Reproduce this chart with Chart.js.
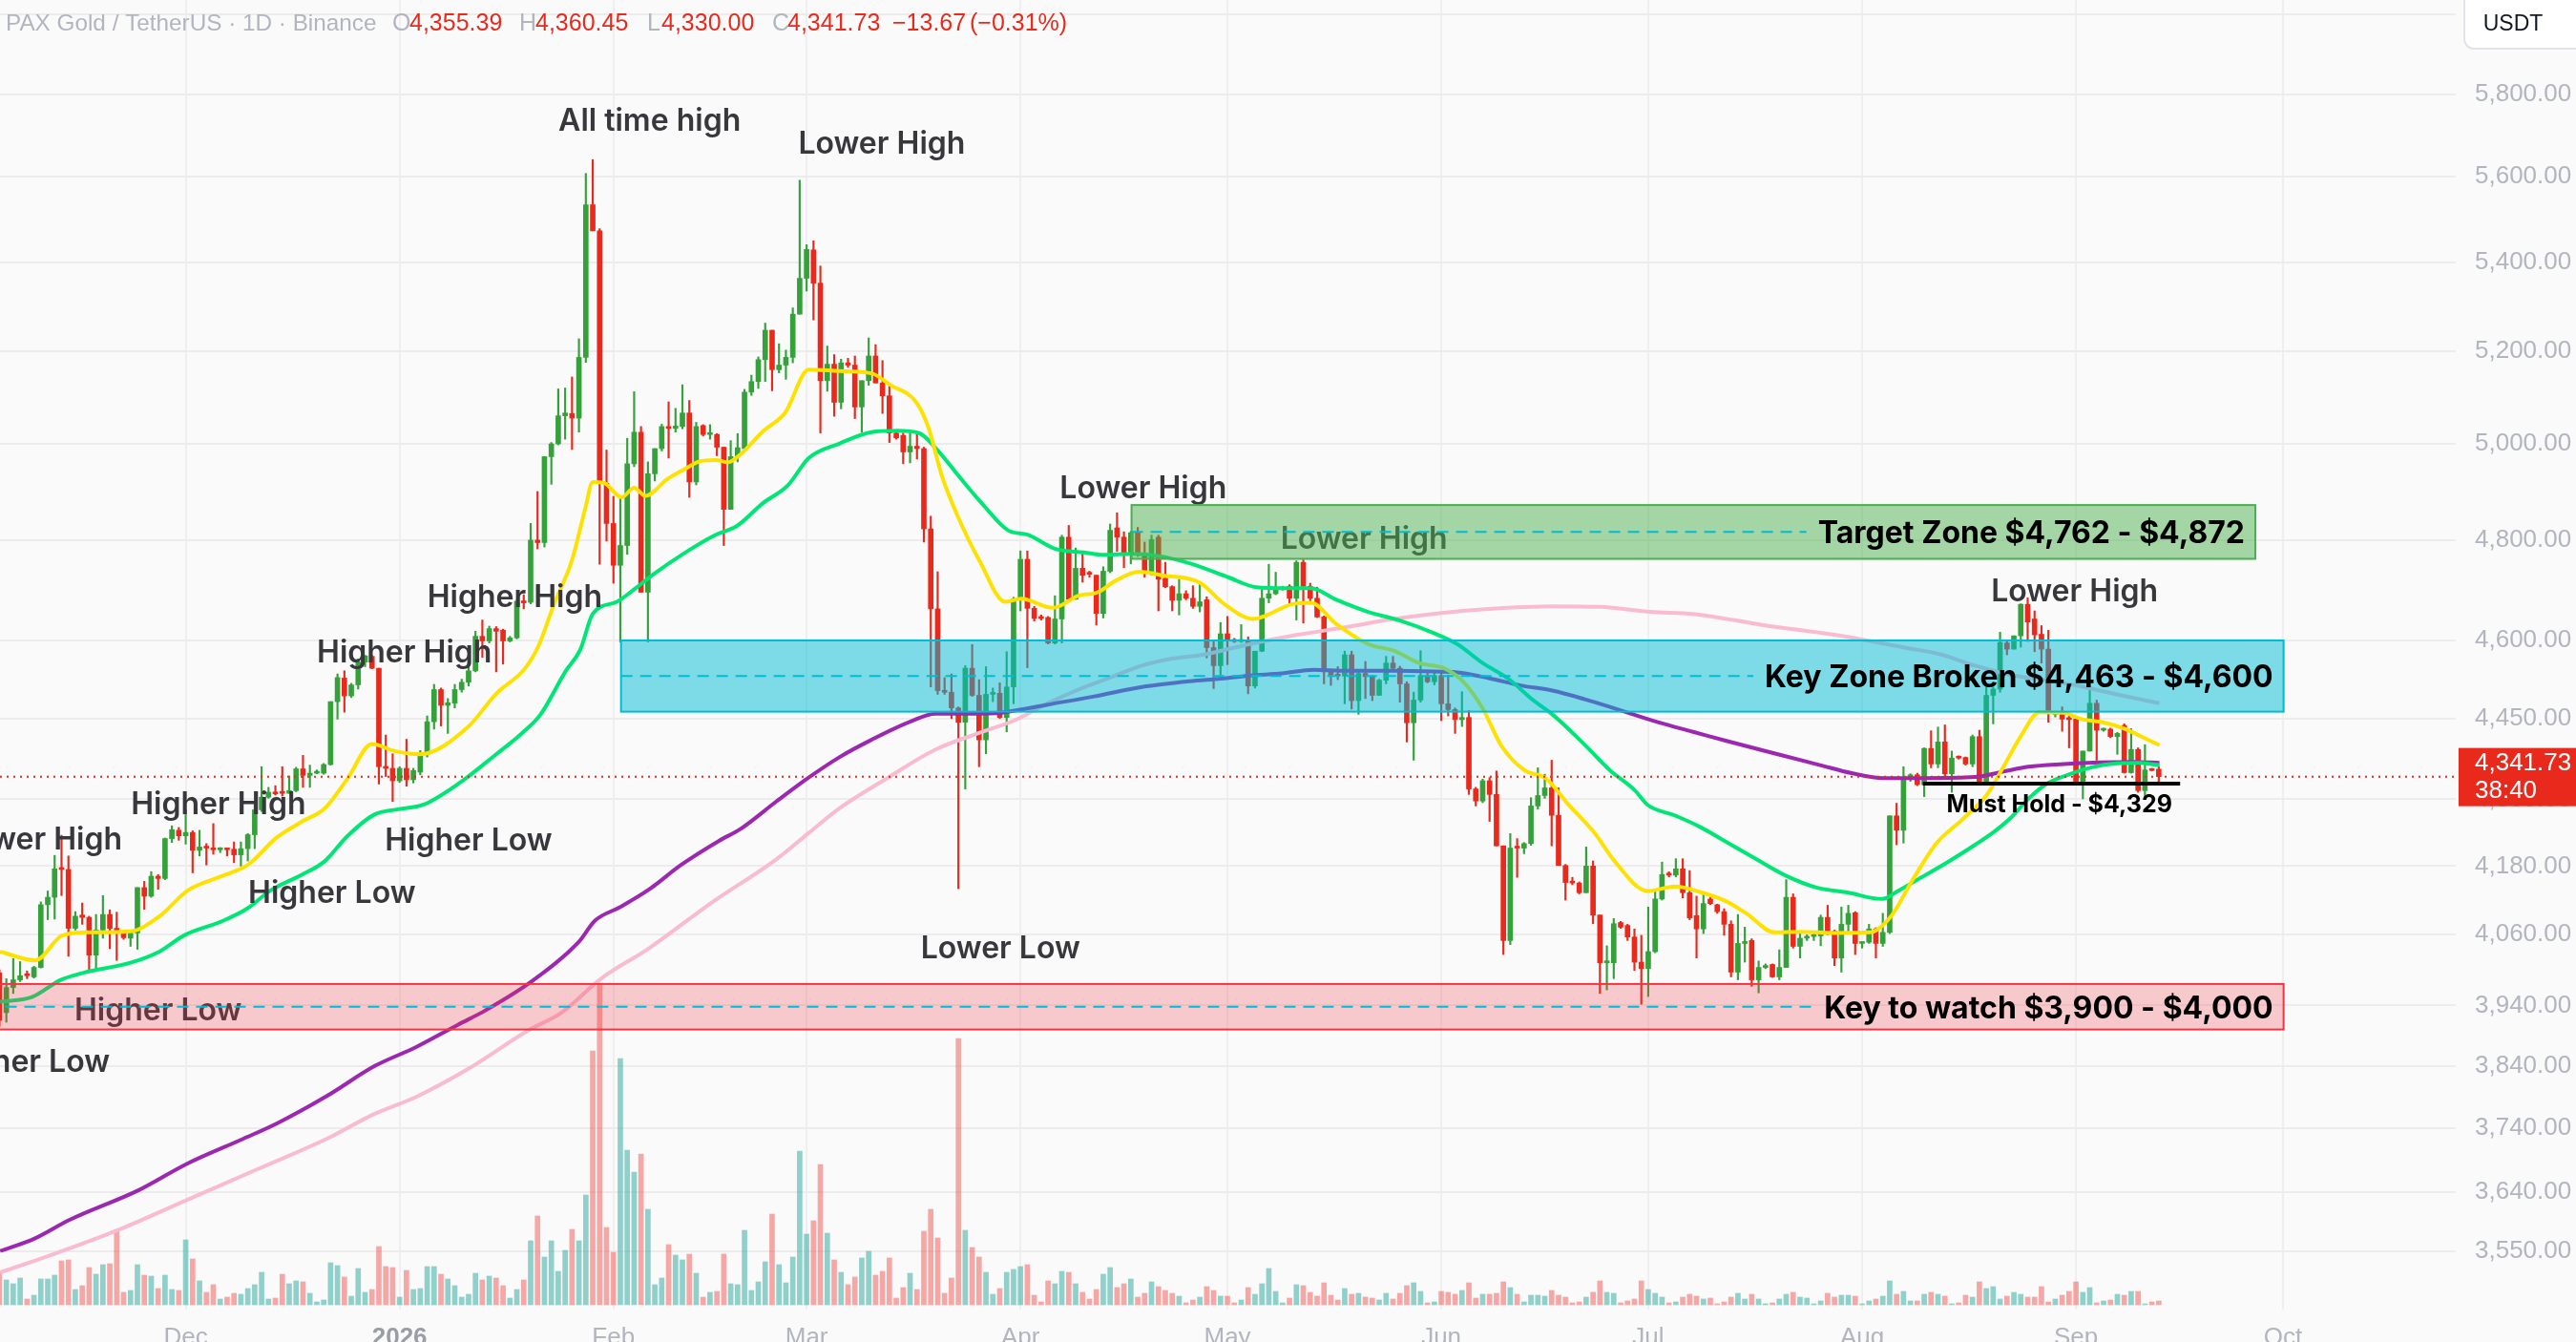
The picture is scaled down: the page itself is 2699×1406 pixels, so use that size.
<!DOCTYPE html>
<html>
<head>
<meta charset="utf-8">
<title>PAX Gold / TetherUS · 1D</title>
<script src="https://cdn.jsdelivr.net/npm/chart.js@4.4.1/dist/chart.umd.min.js"></script>
<style>
  html, body { margin: 0; padding: 0; background: #fafafa; overflow: hidden; }
  #wrap { width: 2699px; height: 1406px; }
</style>
</head>
<body>
<div id="wrap"><canvas id="chart" width="2699" height="1406"></canvas></div>
<script>
/* ==================================
   PAXG/USDT 1D — svíčky, objem, klouzavé průměry, zóny
   Hodnoty (den 0 = 1. 12. 2025)
================================== */

const FIRST_DAY = -27; // 4. 11. 2025

const OPEN = [
  3995,3928,3970,3983,3992,3988,4004,4112,4125,4177,
  4174,4071,4094,4090,4025,4068,4095,4071,4063,4054,
  4063,4142,4127,4162,4158,4229,4244,4234,4240,4208,
  4214,4212,4209,4211,4210,4200,4211,4236,4281,4304,
  4313,4313,4311,4316,4356,4344,4348,4348,4364,4482,
  4527,4493,4514,4558,4569,4546,4360,4357,4334,4357,
  4336,4350,4383,4444,4505,4475,4479,4505,4519,4541,
  4608,4599,4623,4620,4599,4605,4677,4675,4800,4795,
  4973,5000,5060,5065,5055,5187,5534,5473,4917,4834,
  4749,4789,4958,5025,4695,4937,4990,5037,5033,5037,
  5066,4920,5039,5020,5020,4993,4863,4973,4990,5111,
  5134,5182,5247,5160,5170,5187,5283,5364,5429,5353,
  5136,5172,5089,5175,5170,5079,5136,5190,5131,5103,
  5023,5018,4983,4995,4990,4823,4662,4503,4500,4470,
  4443,4546,4494,4410,4496,4498,4452,4510,4681,4761,
  4663,4645,4645,4595,4642,4806,4681,4743,4733,4729,
  4653,4737,4825,4806,4773,4815,4773,4737,4806,4723,
  4706,4679,4692,4683,4667,4680,4586,4551,4613,4600,
  4598,4599,4512,4579,4683,4692,4701,4707,4683,4755,
  4707,4683,4646,4539,4534,4531,4572,4484,4536,4530,
  4494,4523,4556,4546,4516,4442,4485,4532,4520,4532,
  4478,4467,4448,4452,4319,4297,4334,4309,4216,4050,
  4214,4212,4220,4288,4307,4321,4271,4181,4151,4150,
  4133,4180,4094,4012,4012,4081,4076,4056,4013,4002,
  4031,4122,4167,4164,4175,4133,4093,4070,4122,4112,
  4100,4078,3996,4045,4050,3983,4004,4009,3988,4004,
  4125,4040,4054,4057,4058,4090,4066,4020,4078,4098,
  4045,4047,4070,4045,4064,4270,4244,4337,4345,4327,
  4394,4365,4406,4347,4378,4377,4365,4416,4332,4494,
  4506,4595,4583,4609,4671,4642,4612,4583,4458,4458,
  4450,4449,4333,4389,4479,4428,4430,4416,4437,4349,
  4392,4316,4355,4355.39
];
const HIGH = [
  4000,3985,4019,4014,3998,4006,4117,4136,4199,4235,
  4198,4100,4115,4092,4095,4128,4103,4099,4064,4065,
  4142,4153,4170,4165,4230,4252,4249,4281,4243,4244,
  4220,4256,4213,4212,4223,4223,4238,4290,4360,4322,
  4325,4360,4343,4359,4381,4363,4354,4366,4482,4535,
  4541,4517,4564,4571,4571,4546,4419,4384,4360,4411,
  4357,4390,4455,4515,4508,4488,4515,4525,4550,4618,
  4640,4628,4627,4622,4608,4680,4690,4834,4900,4973,
  5003,5118,5120,5144,5228,5608,5641,5478,4987,4890,
  4890,5012,5112,5037,4962,4990,5042,5090,5076,5127,
  5093,5046,5041,5041,5022,4993,5007,5022,5117,5148,
  5188,5263,5247,5217,5203,5297,5592,5441,5450,5392,
  5212,5193,5183,5185,5190,5136,5230,5215,5180,5125,
  5026,5023,5023,5025,4993,4849,4736,4528,4535,4472,
  4551,4592,4524,4549,4508,4518,4578,4685,4778,4778,
  4667,4650,4647,4688,4810,4830,4784,4772,4737,4729,
  4746,4833,4856,4817,4818,4826,4796,4810,4810,4755,
  4708,4721,4698,4708,4714,4686,4599,4635,4647,4604,
  4631,4607,4579,4703,4751,4735,4707,4710,4758,4760,
  4713,4705,4648,4541,4549,4579,4579,4543,4559,4532,
  4525,4569,4569,4550,4520,4500,4580,4537,4537,4537,
  4533,4470,4501,4465,4322,4337,4340,4352,4216,4238,
  4229,4222,4303,4358,4346,4372,4321,4183,4160,4152,
  4214,4189,4094,4041,4088,4083,4078,4070,4059,4108,
  4136,4187,4170,4193,4193,4172,4127,4130,4125,4113,
  4105,4084,4095,4073,4053,4015,4010,4010,4034,4156,
  4131,4062,4060,4063,4094,4111,4068,4108,4111,4100,
  4047,4078,4072,4097,4270,4293,4360,4347,4348,4395,
  4427,4434,4438,4389,4380,4378,4419,4428,4510,4510,
  4616,4598,4609,4672,4684,4658,4629,4620,4462,4472,
  4455,4451,4389,4510,4485,4432,4432,4424,4440,4431,
  4395,4401,4357,4360.45
];
const LOW = [
  3905,3912,3960,3980,3985,3986,4003,4086,4087,4128,
  4023,4068,4078,4000,3998,4054,4036,4016,4052,4040,
  4035,4104,4125,4139,4156,4222,4226,4219,4168,4198,
  4182,4201,4204,4198,4186,4180,4189,4211,4278,4302,
  4308,4306,4311,4314,4322,4322,4347,4346,4363,4449,
  4462,4490,4506,4549,4545,4328,4342,4296,4331,4324,
  4330,4345,4378,4430,4436,4422,4470,4500,4512,4539,
  4567,4595,4539,4554,4597,4603,4662,4672,4782,4786,
  4915,4998,5010,4988,5025,5176,5473,4751,4798,4713,
  4597,4771,4952,4695,4597,4922,4985,4970,5025,5032,
  4888,4914,5017,5010,4975,4789,4863,4962,4990,5104,
  5119,5134,5114,5153,5139,5175,5283,5335,5270,5023,
  5113,5059,5075,5165,5054,5025,5126,5131,5065,5003,
  5010,4958,4960,4968,4796,4510,4496,4496,4450,4140,
  4319,4492,4360,4384,4482,4450,4425,4478,4658,4547,
  4638,4640,4593,4593,4595,4680,4681,4715,4725,4630,
  4644,4734,4777,4744,4752,4767,4725,4729,4658,4704,
  4658,4650,4680,4663,4656,4566,4507,4533,4553,4596,
  4596,4497,4508,4578,4674,4690,4699,4673,4640,4634,
  4673,4645,4516,4513,4524,4478,4468,4458,4488,4484,
  4494,4516,4543,4481,4406,4372,4481,4518,4514,4446,
  4455,4422,4435,4309,4288,4294,4260,4216,4026,4043,
  4160,4202,4217,4282,4302,4216,4181,4120,4147,4131,
  4133,4079,3960,3966,3985,4071,4050,3999,3942,3955,
  4029,4120,4161,4161,4124,4086,4020,4062,4112,4097,
  4059,3988,3983,4013,3972,3961,4002,3987,3983,4004,
  4037,4020,4050,4050,4041,4060,4007,3996,4064,4026,
  4037,4045,4020,4040,4062,4218,4221,4333,4325,4305,
  4358,4358,4342,4313,4374,4363,4360,4331,4331,4440,
  4500,4572,4583,4587,4598,4578,4556,4443,4453,4426,
  4395,4330,4301,4389,4372,4426,4414,4383,4348,4348,
  4313,4307,4352,4330.00
];
const CLOSE = [
  3915,3970,3983,3990,3990,4004,4112,4125,4175,4174,
  4071,4092,4090,4025,4068,4095,4071,4063,4055,4063,
  4142,4127,4162,4158,4229,4245,4234,4240,4208,4214,
  4212,4209,4211,4209,4200,4211,4236,4281,4304,4313,
  4310,4311,4316,4356,4344,4348,4351,4364,4482,4528,
  4493,4514,4558,4570,4546,4360,4357,4334,4357,4336,
  4353,4383,4444,4505,4475,4480,4505,4519,4541,4608,
  4599,4623,4618,4599,4605,4677,4674,4800,4795,4973,
  5000,5060,5066,5055,5187,5534,5473,4917,4834,4749,
  4789,4958,5025,4695,4937,4990,5037,5033,5038,5066,
  4920,5037,5020,5022,4993,4863,4973,4992,5111,5134,
  5182,5247,5160,5170,5187,5283,5364,5430,5353,5136,
  5172,5089,5175,5170,5079,5136,5190,5131,5103,5023,
  5013,4983,4995,4990,4823,4662,4503,4500,4470,4443,
  4546,4494,4410,4496,4498,4452,4510,4681,4761,4663,
  4643,4643,4595,4642,4806,4681,4743,4729,4731,4653,
  4737,4820,4806,4773,4815,4773,4737,4801,4721,4706,
  4679,4692,4683,4667,4676,4586,4551,4613,4599,4598,
  4601,4512,4579,4683,4692,4701,4703,4683,4755,4707,
  4683,4646,4539,4533,4531,4572,4484,4536,4530,4494,
  4523,4556,4546,4516,4442,4485,4532,4520,4532,4478,
  4467,4448,4452,4319,4297,4334,4309,4216,4050,4212,
  4212,4220,4288,4307,4321,4271,4181,4151,4150,4133,
  4180,4094,4012,4015,4079,4073,4056,4013,4002,4031,
  4122,4165,4164,4175,4133,4089,4070,4114,4114,4100,
  4078,3996,4045,4047,3983,4004,4007,3988,4004,4125,
  4040,4054,4057,4058,4090,4066,4020,4078,4097,4045,
  4047,4070,4045,4064,4270,4244,4337,4345,4327,4394,
  4365,4406,4347,4376,4376,4365,4416,4332,4494,4506,
  4596,4583,4609,4671,4636,4611,4583,4461,4460,4449,
  4448,4333,4389,4479,4428,4430,4416,4422,4349,4392,
  4316,4354,4353,4341.73
];
// objem (relativní jednotky)
const VOLUME = [
  35,26,22,28,6,10,27,27,31,46,
  47,16,20,39,32,42,43,78,13,15,
  42,31,30,17,31,16,15,68,48,25,
  13,21,6,8,12,11,17,21,34,6,
  7,32,22,25,24,12,3,5,44,41,
  29,9,38,13,16,61,40,39,8,36,
  16,17,40,40,32,27,20,8,11,33,
  26,30,28,20,7,16,26,67,93,50,
  67,35,57,79,67,115,266,337,81,55,
  258,162,139,158,100,21,28,63,52,47,
  53,33,8,13,14,53,22,21,78,15,
  24,45,95,42,23,50,161,74,88,147,
  75,47,34,21,29,49,56,31,35,49,
  7,18,33,16,77,100,70,12,28,279,
  78,60,50,34,11,17,34,37,40,42,
  10,3,25,22,35,34,22,13,
  6,16,32,39,18,22,27,8,12,24,
  19,15,12,9,2,5,8,19,15,9,
  9,2,5,18,11,22,38,14,2,7,
  21,20,13,9,23,10,5,17,11,12,
  8,7,5,12,6,12,20,23,14,2,
  3,14,13,11,15,23,7,11,11,12,
  24,18,11,3,10,10,9,15,10,8,
  2,3,8,13,25,13,12,2,4,6,
  25,16,12,8,2,3,8,11,9,6,
  7,1,3,8,12,6,11,6,1,2,
  6,11,13,8,7,1,4,12,8,10,
  10,9,1,4,6,9,25,11,14,4,
  4,11,13,11,9,1,2,10,8,24,
  17,19,6,9,13,11,8,8,19,3,
  6,10,14,24,13,18,2,4,5,11,
  10,14,14,1,3,4
];

// klouzavé průměry: [den, cena]
const MA_YELLOW = [
  [-26.9,4031],[-21.8,4016],[-18,4058],[-14.7,4064],[-8,4066],[-3.9,4091],[0.3,4137],[5.4,4163],[9,4182],
  [13.2,4231],[16.9,4260],[20.1,4283],[23.4,4337],[27,4402],[30.3,4389],[33.9,4383],[40.9,4434],[45,4497],
  [49.2,4546],[51.2,4591],[53.3,4668],[56,4760],[57.9,4864],[59,4920],[60.6,4918],[63.2,4888],[65,4908],
  [66.6,4891],[69.9,4927],[72.2,4946],[74.5,4963],[76.8,4966],[78.6,4961],[80.5,4979],[83.7,5027],[86.9,5067],
  [90.3,5160],[94.8,5157],[99.4,5152],[102.2,5126],[105.9,5089],[107.7,5033],[109.6,4933],[111.9,4849],
  [115.1,4757],[118.8,4676],[121.1,4682],[125.7,4664],[129.4,4688],[132.2,4695],[134.9,4719],[138.2,4736],
  [141.4,4729],[147,4714],[150.6,4671],[154.8,4642],[156.6,4649],[160.3,4671],[163.1,4674],[166.8,4632],
  [171.4,4593],[175.1,4580],[178.8,4556],[182.4,4546],[185.2,4520],[188,4469],[190.7,4399],[194,4354],
  [197.2,4338],[200.4,4291],[204.1,4241],[207.3,4186],[211.9,4136],[216,4144],[219,4136],[223.1,4119],
  [226.2,4097],[230.3,4064],[233.9,4065],[239,4063],[244.1,4064],[247.2,4092],[250.2,4153],[253.8,4221],
  [257.4,4262],[261,4307],[263.5,4360],[266.1,4419],[268.7,4462],[272.2,4461],[274.8,4449],[277.9,4443],
  [281,4431],[283.5,4416],[286.1,4400]
];
const MA_GREEN = [
  [-26.9,3946],[-22.3,3954],[-18.1,3983],[-14.8,3995],[-8,4012],[-3.8,4031],[-0.2,4059],[5.4,4084],[9,4106],
  [12.3,4137],[16.9,4165],[20.1,4188],[23.4,4233],[27.3,4272],[30.8,4282],[34.4,4290],[39.9,4332],[45,4383],
  [48.7,4422],[51.4,4457],[55.1,4541],[57.2,4582],[59,4652],[62.5,4676],[65.2,4703],[68,4733],[72.1,4772],
  [76.7,4810],[79.9,4829],[83.6,4875],[87.3,4913],[90.3,4970],[94.8,5001],[99.4,5025],[103.1,5028],
  [106.3,5023],[108.6,4993],[112.3,4928],[115.5,4874],[119.2,4820],[122,4811],[126.1,4782],[130.2,4775],
  [133,4770],[137.2,4772],[140.9,4768],[145.5,4753],[151.1,4725],[155.2,4705],[159.4,4703],[163.1,4703],
  [166.8,4680],[171.4,4656],[176,4639],[180.6,4616],[184.3,4593],[188,4556],[191.7,4526],[195.4,4484],
  [198.1,4458],[202.7,4402],[206.4,4354],[210.1,4316],[211.9,4290],[216,4270],[219.5,4250],[223.6,4221],
  [227.7,4192],[232.3,4161],[236.4,4142],[241,4133],[245.9,4122],[248.2,4136],[251.3,4158],[255.4,4187],
  [259.4,4218],[262,4240],[264.6,4267],[267.1,4301],[269.7,4328],[272.8,4345],[276.3,4359],[279.9,4366],
  [283,4367],[286.1,4363]
];
const MA_PURPLE = [
  [-26.9,3550],[-21.9,3569],[-16.9,3597],[-6.8,3643],[0.2,3684],[8.3,3723],[13.3,3748],[20.4,3791],
  [27.4,3840],[33.4,3871],[39.5,3908],[43.5,3932],[50.1,3980],[57,4048],[59.3,4084],[63,4108],[67.2,4139],
  [71.8,4182],[77.3,4225],[80.5,4247],[85.6,4296],[90.2,4339],[94.8,4378],[99.4,4410],[105,4444],
  [108.7,4459],[111.9,4459],[117.4,4460],[120.2,4465],
  [124.8,4476],[131.7,4492],[138.6,4510],[145.5,4521],[150.1,4526],[154.3,4532],[158.9,4536],[163.5,4543],
  [168.2,4541],[175.1,4541],[179.7,4540],[184.3,4538],[188.9,4527],[193.5,4513],[198.1,4503],[202.7,4487],
  [207.4,4468],[213.4,4443],[218.5,4425],[223.6,4407],[230.8,4383],[236.9,4363],[241.5,4348],[246.1,4339],
  [251.8,4339],[259.4,4341],[263.5,4351],[267.1,4360],[272.2,4365],[277.4,4368],[282.5,4369],[286.1,4367]
];
const MA_PINK = [
  [-26.9,3518],[-20.9,3539],[-9.8,3582],[0.2,3628],[10.3,3675],[20.4,3723],[27.4,3763],[33.4,3790],
  [40.9,3835],[49.6,3898],[54.6,3929],[60.2,3985],[67.2,4037],[76.4,4117],[85.6,4192],[90.2,4238],
  [94.8,4284],[101.7,4339],[108.7,4392],[115.5,4425],[120.2,4447],[124.8,4478],[129.4,4505],
  [134,4528],[138.6,4551],[143.2,4565],[147.4,4572],[154.3,4593],[161.2,4611],[168.2,4626],[175.1,4642],
  [182,4654],[188.9,4662],[198.1,4667],[205,4666],[212.4,4656],[218.5,4652],[228.7,4630],[239,4611],
  [244.1,4599],[249.2,4586],[254.3,4573],[259.4,4551],[264.6,4533],[269.7,4523],[274.8,4511],[279.9,4496],
  [286.1,4479]
];

const PRICE_TICKS = [6000,5800,5600,5400,5200,5000,4800,4600,4450,4300,4180,4060,3940,3840,3740,3640,3550];
const MONTH_TICKS = [0,31,62,90,121,151,182,212,243,274,304];
const MONTH_LABELS = ['Dec','2026','Feb','Mar','Apr','May','Jun','Jul','Aug','Sep','Oct'];

const ZONE_PRICES = [[4762,4872],[4463,4600],[3900,3976]];
const ZONE_LABELS = ['Target Zone $4,762 - $4,872','Key Zone Broken $4,463 - $4,600','Key to watch $3,900 - $4,000'];
const MUST_HOLD = 4329;
const LAST_PRICE = 4341.73;

const NOTE_TEXT = ['All time high','Lower High','Higher High','Higher High','Higher High','Lower High',
  'Higher Low','Higher Low','Higher Low','Higher Low','Lower Low','Lower High','Lower High','Lower High'];

/* ---------- vzhled ---------- */
const UP = '#35a13b', DOWN = '#e8291c';
const VOL_UP = 'rgba(38,166,154,0.5)', VOL_DOWN = 'rgba(239,83,80,0.5)';
const FONT = 'Inter, "Noto Sans", sans-serif';
const AXIS_FONT = '"Liberation Sans", Arial, sans-serif';

// [den, cena, zarovnání] — kotvy popisků
const NOTE_AT = [[67.25,5737,'center'],[100.9,5681,'center'],[31.7,4577,'center'],[47.7,4686,'center'],
  [4.75,4293,'center'],[-9.2,4229,'right'],[41.0,4227,'center'],[21.2,4133,'center'],[-4.0,3932,'center'],
  [-11.0,3848,'right'],[118.1,4037,'center'],[138.8,4908,'center'],[170.8,4803,'center'],[273.8,4697,'center']];
const ZONE_STYLE = [
  { x0: 137.1, x1: 300.0, fill: 'rgba(76,175,80,0.5)', edge: '#4caf50' },
  { x0: 63.1,  x1: 304.1, fill: 'rgba(0,188,212,0.5)', edge: '#00bcd4' },
  { x0: -40,   x1: 304.1, fill: 'rgba(242,54,69,0.25)', edge: '#f23645' },
];

const days = OPEN.map((_, i) => FIRST_DAY + i);
const isUp = CLOSE.map((c, i) => c >= OPEN[i]);
const pts = arr => arr.map(([d, p]) => ({ x: d, y: p }));

const overlay = {
  id: 'overlay',
  afterDatasetsDraw(chart) {
    const { ctx, chartArea: a, scales: { x, y } } = chart;
    ctx.save();
    ctx.beginPath(); ctx.rect(a.left, a.top, a.right - a.left, a.bottom - a.top); ctx.clip();

    // popisky struktury (pod zónami)
    ctx.font = '600 32px ' + FONT;
    ctx.fillStyle = '#37373c';
    ctx.textBaseline = 'alphabetic';
    NOTE_TEXT.forEach((t, i) => {
      const [d, p, al] = NOTE_AT[i];
      ctx.textAlign = al;
      ctx.fillText(t, x.getPixelForValue(d), y.getPixelForValue(p) + 11);
    });

    // zóny
    ZONE_PRICES.forEach(([lo, hi], i) => {
      const s = ZONE_STYLE[i];
      const x0 = x.getPixelForValue(s.x0), x1 = x.getPixelForValue(s.x1);
      const yt = y.getPixelForValue(hi), yb = y.getPixelForValue(lo);
      ctx.fillStyle = s.fill;
      ctx.fillRect(x0, yt, x1 - x0, yb - yt);
      ctx.strokeStyle = s.edge; ctx.lineWidth = 2; ctx.setLineDash([]);
      ctx.strokeRect(x0, yt, x1 - x0, yb - yt);

      ctx.font = 'bold 32px ' + FONT;
      const tw = ctx.measureText(ZONE_LABELS[i]).width;
      const tx = x1 - 11;
      const ym = (yt + yb) / 2;
      ctx.strokeStyle = '#00bcd4'; ctx.lineWidth = 2; ctx.setLineDash([12, 8]);
      ctx.beginPath(); ctx.moveTo(x0, ym); ctx.lineTo(tx - tw - 12, ym); ctx.stroke();
      ctx.setLineDash([]);
      ctx.fillStyle = '#000';
      ctx.textAlign = 'right';
      ctx.fillText(ZONE_LABELS[i], tx, ym + 12);
    });

    // Must Hold
    const yh = y.getPixelForValue(MUST_HOLD);
    ctx.strokeStyle = '#000'; ctx.lineWidth = 4;
    ctx.beginPath(); ctx.moveTo(x.getPixelForValue(251.8), yh); ctx.lineTo(x.getPixelForValue(289.1), yh); ctx.stroke();
    ctx.font = 'bold 25px ' + FONT; ctx.fillStyle = '#000'; ctx.textAlign = 'center';
    ctx.fillText('Must Hold - $4,329', x.getPixelForValue(271.6), yh + 30);

    // poslední cena
    const yl = y.getPixelForValue(LAST_PRICE);
    ctx.strokeStyle = DOWN; ctx.lineWidth = 2; ctx.setLineDash([2, 5]);
    ctx.beginPath(); ctx.moveTo(a.left, yl); ctx.lineTo(a.right, yl); ctx.stroke();
    ctx.restore();
  },
  afterDraw(chart) {
    const { ctx, chartArea: a, scales: { x, y } } = chart;
    ctx.save();
    // cenovka vpravo
    const yl = y.getPixelForValue(LAST_PRICE);
    ctx.fillStyle = DOWN;
    ctx.fillRect(a.right + 3, yl - 30, 200, 61);
    ctx.fillStyle = '#fff'; ctx.font = '26px ' + AXIS_FONT; ctx.textAlign = 'left'; ctx.textBaseline = 'middle';
    ctx.fillText(LAST_PRICE.toLocaleString('en-US', { minimumFractionDigits: 2 }), a.right + 20, yl - 14);
    ctx.fillText('38:40', a.right + 20, yl + 15);

    // USDT
    ctx.fillStyle = '#fff'; ctx.strokeStyle = '#e0e3eb'; ctx.lineWidth = 2;
    ctx.beginPath(); ctx.roundRect(a.right + 9, -12, 140, 63, 10); ctx.fill(); ctx.stroke();
    ctx.fillStyle = '#131722'; ctx.font = '23px ' + AXIS_FONT; ctx.textAlign = 'center';
    ctx.fillText('USDT', a.right + 60, 26);

    // měsíce
    ctx.textBaseline = 'alphabetic';
    MONTH_TICKS.forEach((d, i) => {
      const yr = MONTH_LABELS[i] === '2026';
      ctx.font = (yr ? 'bold ' : '') + '26px ' + AXIS_FONT;
      ctx.fillStyle = yr ? '#9a9da6' : '#b2b5be';
      ctx.fillText(MONTH_LABELS[i], x.getPixelForValue(d), 1409);
    });

    // hlavička
    const title = 'PAX Gold / TetherUS · 1D · Binance';
    ctx.font = '25px ' + AXIS_FONT;
    const fs = Math.min(25, 25 * 388 / ctx.measureText(title).width);
    const parts = [
      ['O', 411, '#b2b5be'], ['4,355.39', 429, DOWN],
      ['H', 544, '#b2b5be'], ['4,360.45', 561, DOWN],
      ['L', 678, '#b2b5be'], ['4,330.00', 693, DOWN],
      ['C', 809, '#b2b5be'], ['4,341.73', 825, DOWN],
      ['\u221213.67', 935, DOWN], ['(\u22120.31%)', 1016, DOWN],
    ];
    ctx.textAlign = 'left'; ctx.textBaseline = 'middle';
    ctx.font = fs.toFixed(1) + 'px ' + AXIS_FONT;
    ctx.fillStyle = '#b2b5be'; ctx.fillText(title, 6, 25);
    ctx.font = '25px ' + AXIS_FONT;
    parts.forEach(([t, px, c]) => { ctx.fillStyle = c; ctx.fillText(t, px, 25); });
    ctx.restore();
  }
};

new Chart(document.getElementById('chart'), {
  type: 'bar',
  data: {
    datasets: [
      { type: 'line', data: pts(MA_YELLOW), borderColor: '#ffe100', borderWidth: 4, order: 1 },
      { type: 'line', data: pts(MA_GREEN), borderColor: '#00e676', borderWidth: 4, order: 2 },
      { type: 'line', data: pts(MA_PURPLE), borderColor: '#9c27b0', borderWidth: 4, order: 3 },
      { type: 'line', data: pts(MA_PINK), borderColor: '#f8bbd0', borderWidth: 4, order: 4 },
      { data: days.map((d, i) => ({ x: d, y: [Math.min(OPEN[i], CLOSE[i]), Math.max(OPEN[i], CLOSE[i])] })),
        backgroundColor: isUp.map(u => u ? UP : DOWN), barThickness: 5, minBarLength: 2, grouped: false, order: 5 },
      { data: days.map((d, i) => ({ x: d, y: [LOW[i], HIGH[i]] })),
        backgroundColor: isUp.map(u => u ? UP : DOWN), barThickness: 1.5, grouped: false, order: 6 },
      { data: days.map((d, i) => ({ x: d, y: VOLUME[i] })), yAxisID: 'yv',
        backgroundColor: isUp.map(u => u ? VOL_UP : VOL_DOWN), barThickness: 5, minBarLength: 1, grouped: false, order: 9 },
    ]
  },
  options: {
    responsive: false, animation: false, devicePixelRatio: 1,
    layout: { padding: 0 },
    elements: { point: { radius: 0 }, line: { cubicInterpolationMode: 'monotone' }, bar: { borderWidth: 0 } },
    plugins: { legend: { display: false }, tooltip: { enabled: false } },
    scales: {
      x: {
        type: 'linear', min: -26.92, max: 329.05, offset: false,
        afterBuildTicks: s => { s.ticks = MONTH_TICKS.map(v => ({ value: v })); },
        afterFit: s => { s.height = 34; s.paddingLeft = 0; s.paddingRight = 0; },
        grid: { color: '#efefef', lineWidth: 2, drawTicks: false, offset: false },
        border: { display: false },
        ticks: { display: false }
      },
      y: {
        type: 'logarithmic', position: 'right', min: 3463, max: 6036.3,
        afterBuildTicks: s => { s.ticks = PRICE_TICKS.map(v => ({ value: v })); },
        afterFit: s => { s.width = 126; s.paddingTop = 0; s.paddingBottom = 0; },
        grid: { color: '#ececec', lineWidth: 2, drawTicks: false },
        border: { display: false },
        ticks: {
          autoSkip: false, padding: 20, color: '#b2b5be',
          font: { family: AXIS_FONT, size: 26 },
          callback: v => Number(v).toLocaleString('en-US', { minimumFractionDigits: 2, maximumFractionDigits: 2 })
        }
      },
      yv: { type: 'linear', display: false, min: -5, max: 1367 }
    }
  },
  plugins: [overlay]
});
</script>
</body>
</html>
